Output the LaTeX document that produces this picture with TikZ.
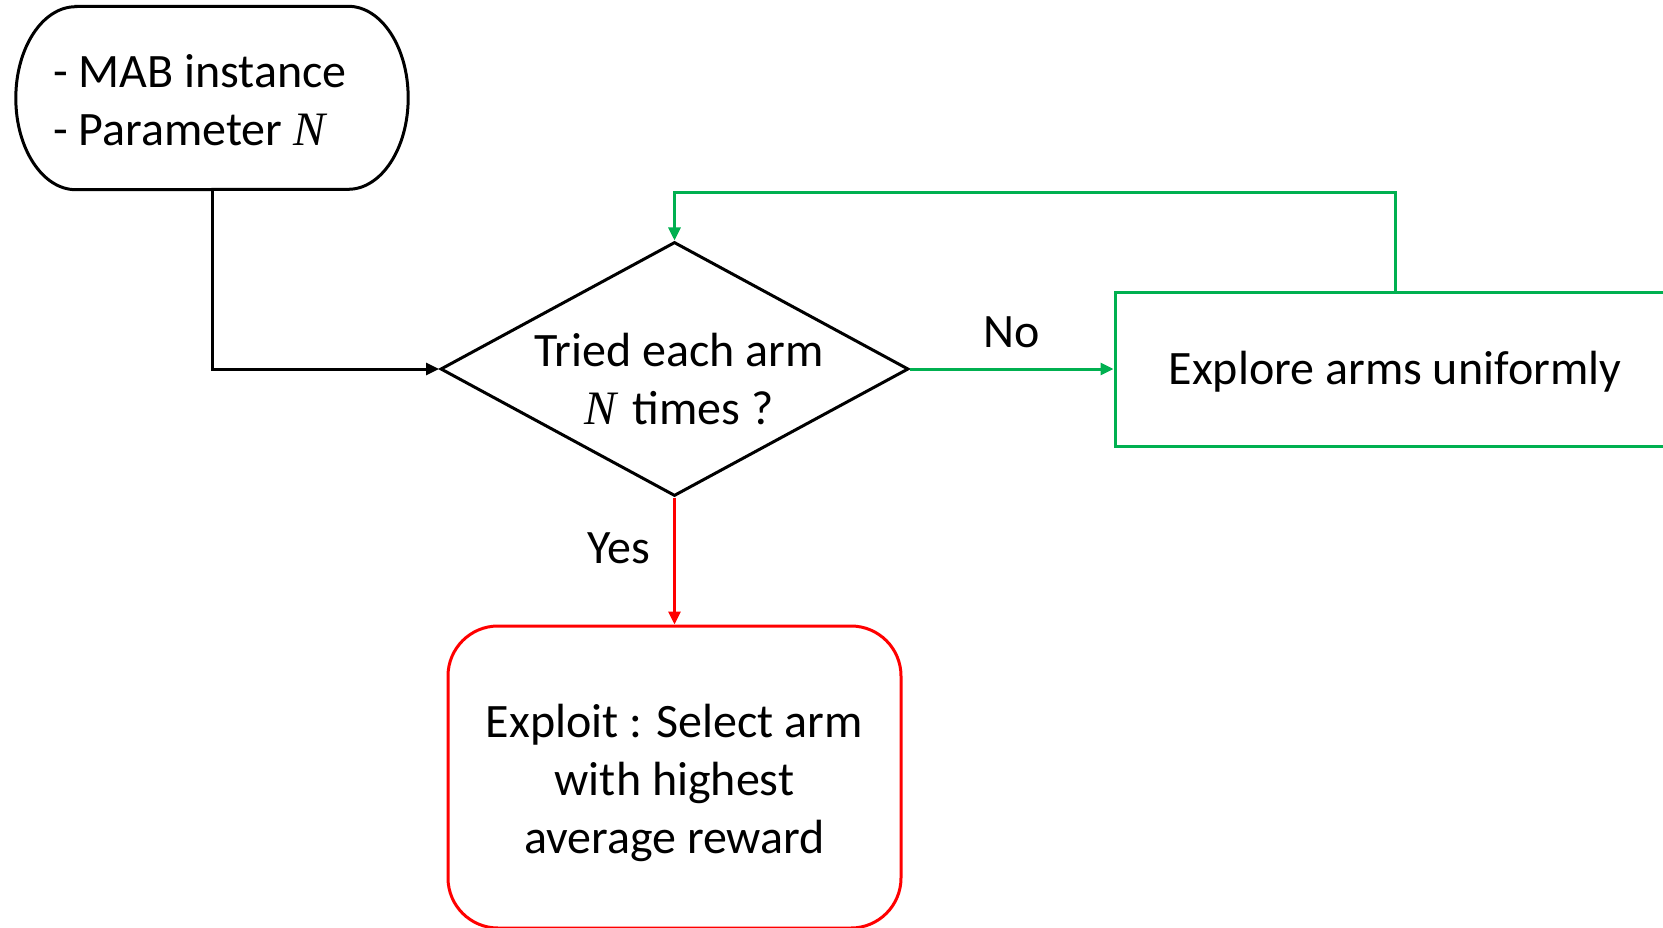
\documentclass[tikz,border=0pt]{standalone}
\usepackage{fontspec}
\setmainfont{Carlito}
\newfontfamily\symserif{Liberation Serif}
\newcommand{\parN}{{\symserif\itshape N}}
\usetikzlibrary{shapes.geometric,arrows.meta}
\definecolor{flowgreen}{RGB}{0,176,80}
\definecolor{flowred}{RGB}{255,0,0}
\begin{document}
\begin{tikzpicture}[x=1pt,y=-1pt,
  txt/.style={font=\fontsize{48}{58}\selectfont, inner sep=0pt},
  line/.style={line width=3pt},
  tip/.style={-{Triangle[length=13pt,width=12pt]}},
  startbox/.style={minimum width=392pt, minimum height=183pt, inner sep=0pt},
  decision/.style={draw, diamond, line width=3pt, minimum width=468pt,
    minimum height=254pt, inner sep=0pt},
  explorebox/.style={draw=flowgreen, line width=3pt, minimum width=560pt,
    minimum height=154pt, inner sep=0pt},
  exploitbox/.style={draw=flowred, line width=3pt, rounded corners=50pt,
    minimum width=453pt, minimum height=302pt, inner sep=0pt}
]
\useasboundingbox (0,0) rectangle (1663,928);
\clip (0,0) rectangle (1663,928);

% input block: terminator shape with elliptical ends
\node[startbox] (start) at (212,98) {};
\draw[line] ([xshift=60pt]start.north west) -- ([xshift=-60pt]start.north east)
  arc[start angle=90, end angle=-90, x radius=60pt, y radius=91.5pt]
  -- ([xshift=60pt]start.south west)
  arc[start angle=270, end angle=90, x radius=60pt, y radius=91.5pt] -- cycle;
\node[txt, align=left, anchor=west] (starttext) at (53,100)
  {- MAB instance\\- Parameter \parN};

% decision
\node[decision] (test) at (674.5,369) {};
\node[txt, align=center] (testtext) at (679,379)
  {Tried each arm\\\parN\hspace{5pt}\ times ?};

% exploration step
\node[explorebox] (explore) at (1395,369) {};
\node[txt] (exploretext) at (1395,372) {Explore arms uniformly};

% exploitation step
\node[exploitbox] (exploit) at (674.5,777) {};
\node[txt, align=center] (exploittext) at (674.5,783)
  {Exploit : Select arm\\with highest\\average reward};

% connectors
\draw[line, tip] (start.south) |- (test.west);
\draw[line, tip, draw=flowgreen, fill=flowgreen] (test.east) -- (explore.west)
  node[txt, midway, yshift=37pt, text=black] {No};
\coordinate (loopR) at (1395,193);
\coordinate (loopL) at (674.5,193);
\draw[line, tip, draw=flowgreen] (explore.north) -- (loopR) -- (loopL) -- (test.north);
\draw[line, tip, draw=flowred] (test.south) -- (exploit.north)
  node[txt, midway, xshift=-55.5pt, yshift=13pt, text=black] {Yes};
\end{tikzpicture}
\end{document}
